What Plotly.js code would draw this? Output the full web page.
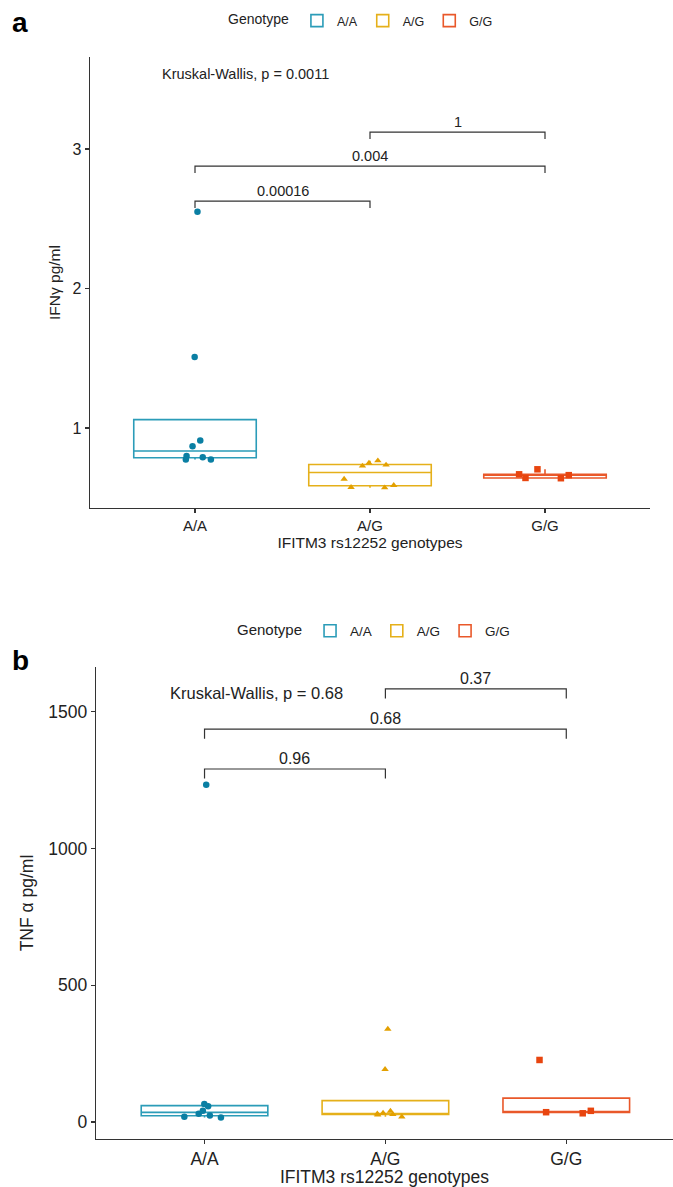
<!DOCTYPE html>
<html>
<head>
<meta charset="utf-8">
<script src="https://cdn.plot.ly/plotly-3.0.1.min.js"></script>
<style>html,body{margin:0;padding:0;background:#fff;}#chart{width:673px;height:1187px;}</style>
</head>
<body>
<div id="chart"></div>
<script>
// ---------- data ----------
const categories = ['A/A', 'A/G', 'G/G'];
const catPos = [1, 2, 3];

// Panel a: IFN-gamma (pg/ml)
const ifngAA = [2.55, 1.51, 0.91, 0.87, 0.80, 0.79, 0.775, 0.775];
const ifngAG = [0.766, 0.749, 0.735, 0.728, 0.634, 0.589, 0.575, 0.572];
const ifngGG = [0.704, 0.668, 0.662, 0.642, 0.64];

// Panel b: TNF-alpha (pg/ml)
const tnfAA = [1233, 66, 58, 41, 30, 24, 19, 17];
const tnfAG = [340, 193, 40, 33, 30, 28, 26, 19];
const tnfGG = [227, 41, 36, 32];

// pairwise comparisons (group indices), p labels and label heights (data units)
const pairs = [[1, 2], [1, 3], [2, 3]];
const ifngPLabels = ['0.00016', '0.004', '1'];
const ifngBracketY = [2.627, 2.878, 3.122];
const tnfPLabels = ['0.96', '0.68', '0.37'];
const tnfBracketY = [1291, 1437, 1584];
const ifngKW = 'Kruskal-Wallis, p = 0.0011';
const tnfKW = 'Kruskal-Wallis, p = 0.68';

const yTicksA = [1, 2, 3];
const yTicksB = [0, 500, 1000, 1500];

// ---------- styling ----------
const lineColors = ['#2B9CB8', '#E5B01A', '#E9582A'];
const pointColors = ['#0A7FA3', '#E3A000', '#E8450F'];
const symbols = ['circle', 'triangle-up', 'square'];
const FONT = 'Liberation Sans, Arial, Helvetica, sans-serif';
const W = 673, H = 1187;

// type-7 quantile like R
function quant(sorted, p) {
  const h = (sorted.length - 1) * p;
  const lo = Math.floor(h), hi = Math.ceil(h);
  return sorted[lo] + (h - lo) * (sorted[hi] - sorted[lo]);
}
function stats(vals) {
  const s = vals.slice().sort((a, b) => a - b);
  const q1 = quant(s, 0.25), med = quant(s, 0.5), q3 = quant(s, 0.75);
  const iqr = q3 - q1;
  const inRange = s.filter(v => v >= q1 - 1.5 * iqr && v <= q3 + 1.5 * iqr);
  const lf = Math.min(q1, inRange[0]);
  const uf = Math.max(q3, inRange[inRange.length - 1]);
  return {q1, med, q3, lf, uf};
}

function groupTraces(groups, xa, ya, legendId) {
  const out = [];
  groups.forEach((vals, i) => {
    const st = stats(vals);
    out.push({
      type: 'box', name: categories[i], x: [catPos[i]],
      q1: [st.q1], median: [st.med], q3: [st.q3],
      lowerfence: [st.lf], upperfence: [st.uf],
      width: 0.7, whiskerwidth: 0,
      line: {color: lineColors[i], width: 1.6},
      fillcolor: 'rgba(255,255,255,1)',
      boxpoints: false, xaxis: xa, yaxis: ya,
      legend: legendId, showlegend: true, hoverinfo: 'skip'
    });
  });
  groups.forEach((vals, i) => {
    out.push({
      type: 'box', name: categories[i],
      x: vals.map(() => catPos[i]), y: vals,
      width: 0.7, boxpoints: 'all', jitter: 0.5, pointpos: 0,
      line: {width: 0, color: 'rgba(0,0,0,0)'},
      fillcolor: 'rgba(0,0,0,0)', whiskerwidth: 0,
      marker: {color: pointColors[i], symbol: symbols[i], size: 6.5},
      xaxis: xa, yaxis: ya, showlegend: false, legend: legendId, hoverinfo: 'y'
    });
  });
  return out;
}

const data = [].concat(
  groupTraces([ifngAA, ifngAG, ifngGG], 'x', 'y', 'legend'),
  groupTraces([tnfAA, tnfAG, tnfGG], 'x2', 'y2', 'legend2')
);

function brackets(xr, yr, ys, labels, tip, gap, fs) {
  const shapes = [], anns = [];
  pairs.forEach((p, k) => {
    const x1 = catPos[p[0] - 1], x2 = catPos[p[1] - 1], y = ys[k];
    shapes.push({
      type: 'path', xref: xr, yref: yr,
      path: `M ${x1},${y - tip} L ${x1},${y} L ${x2},${y} L ${x2},${y - tip}`,
      line: {color: '#333', width: 1.2}
    });
    anns.push({
      xref: xr, yref: yr, x: (x1 + x2) / 2, y: y, text: labels[k],
      showarrow: false, yanchor: 'bottom', yshift: gap,
      font: {family: FONT, size: fs, color: '#222'}
    });
  });
  return {shapes, anns};
}

const bA = brackets('x', 'y', ifngBracketY, ifngPLabels, 0.05, 0, 14.5);
const bB = brackets('x2', 'y2', tnfBracketY, tnfPLabels, 35, 0, 16);

const axisCommon = {
  showline: true, linecolor: '#333', linewidth: 1.3, ticks: 'outside',
  ticklen: 4, tickwidth: 1.2, tickcolor: '#333', showgrid: false, zeroline: false,
  mirror: false
};

const layout = {
  width: W, height: H,
  margin: {l: 0, r: 0, t: 0, b: 0},
  paper_bgcolor: '#fff', plot_bgcolor: '#fff',
  font: {family: FONT, color: '#222'},
  showlegend: true,
  xaxis: Object.assign({}, axisCommon, {
    domain: [90 / W, 650 / W], range: [0.4, 3.6], anchor: 'y',
    tickvals: catPos, ticktext: categories, tickfont: {size: 15, color: '#222'},
    title: {text: 'IFITM3 rs12252 genotypes', font: {size: 15.5, color: '#222'}, standoff: 2}
  }),
  yaxis: Object.assign({}, axisCommon, {
    domain: [1 - 508 / H, 1 - 57 / H], range: [0.4265, 3.66], anchor: 'x',
    tickvals: yTicksA, tickfont: {size: 16, color: '#222'},
    title: {text: 'IFNγ pg/ml', font: {size: 15.5, color: '#222'}, standoff: 8}
  }),
  xaxis2: Object.assign({}, axisCommon, {
    domain: [96 / W, 1], range: [0.4, 3.59], anchor: 'y2',
    tickvals: catPos, ticktext: categories, tickfont: {size: 17.5, color: '#222'},
    title: {text: 'IFITM3 rs12252 genotypes', font: {size: 17.5, color: '#222'}, standoff: 2}
  }),
  yaxis2: Object.assign({}, axisCommon, {
    domain: [1 - 1139 / H, 1 - 667 / H], range: [-62, 1664], anchor: 'x2',
    tickvals: yTicksB, tickfont: {size: 17.5, color: '#222'},
    title: {text: 'TNF α pg/ml', font: {size: 17.5, color: '#222'}, standoff: 10}
  }),
  legend: {
    orientation: 'h', x: 362 / W, xanchor: 'center', y: 1 - 21 / H, yanchor: 'middle',
    title: {text: 'Genotype', font: {size: 14, color: '#222'}, side: 'left'},
    font: {size: 12.5, color: '#222'}, itemwidth: 30, bgcolor: 'rgba(0,0,0,0)', tracegroupgap: 0
  },
  legend2: {
    orientation: 'h', x: 375 / W, xanchor: 'center', y: 1 - 631 / H, yanchor: 'middle',
    title: {text: 'Genotype', font: {size: 15, color: '#222'}, side: 'left'},
    font: {size: 13.5, color: '#222'}, itemwidth: 30, bgcolor: 'rgba(0,0,0,0)', tracegroupgap: 0
  },
  shapes: bA.shapes.concat(bB.shapes),
  annotations: [
    {xref: 'paper', yref: 'paper', x: 10 / W, y: 1 - 22 / H, xanchor: 'left', yanchor: 'middle',
     text: '<b>a</b>', showarrow: false, font: {family: FONT, size: 28, color: '#000'}},
    {xref: 'paper', yref: 'paper', x: 10 / W, y: 1 - 660 / H, xanchor: 'left', yanchor: 'middle',
     text: '<b>b</b>', showarrow: false, font: {family: FONT, size: 28, color: '#000'}},
    {xref: 'x', yref: 'y', x: 0.8, y: 3.538, xanchor: 'left', yanchor: 'middle', text: ifngKW,
     showarrow: false, font: {family: FONT, size: 14.5, color: '#222'}},
    {xref: 'x2', yref: 'y2', x: 0.798, y: 1569, xanchor: 'left', yanchor: 'middle', text: tnfKW,
     showarrow: false, font: {family: FONT, size: 16.5, color: '#222'}}
  ].concat(bA.anns, bB.anns)
};

Plotly.newPlot('chart', data, layout, {displayModeBar: false, staticPlot: true});
</script>
</body>
</html>
